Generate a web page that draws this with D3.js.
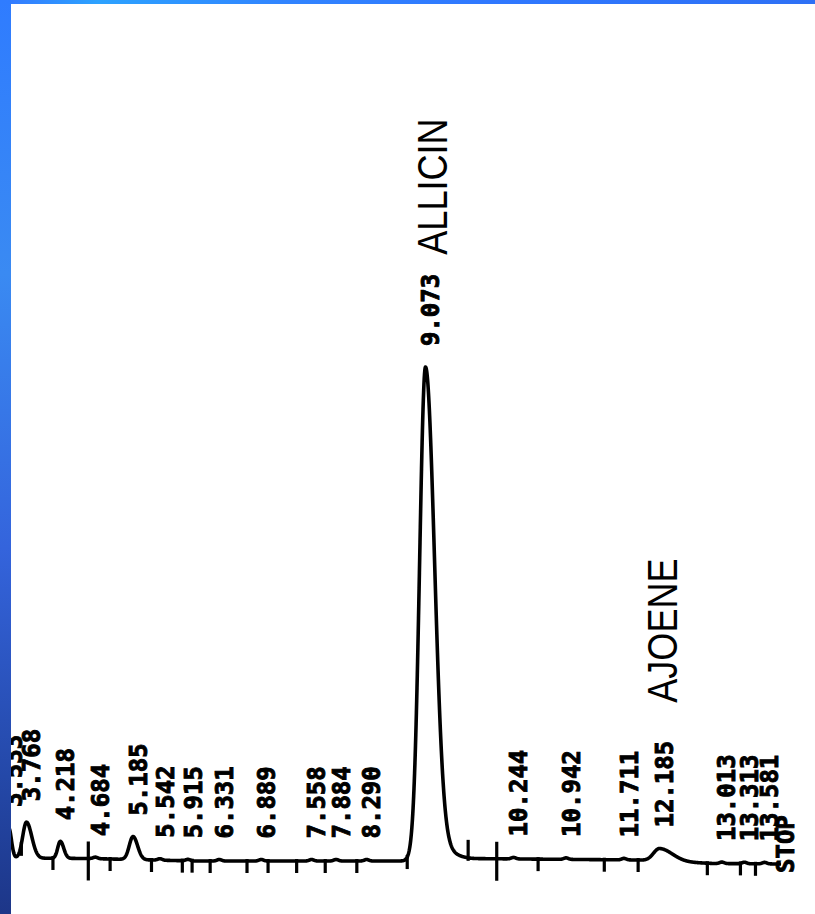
<!DOCTYPE html>
<html>
<head>
<meta charset="utf-8">
<script src="https://cdn.jsdelivr.net/npm/d3@7"></script>
<style>
  html, body { margin: 0; padding: 0; background: #fff; overflow: hidden; }
</style>
</head>
<body>
<div id="chart"></div>
<script>
// peak table (retention time in min)
var peakTimes   = [3.533, 3.768, 4.218, 4.684, 5.185, 5.542, 5.915, 6.331, 6.889, 7.558,
                   7.884, 8.290, 9.073, 10.244, 10.942, 11.711, 12.185, 13.013, 13.313, 13.581];
var peakHeights = [6.0, 7.2, 3.4, 0.3, 4.6, 0.3, 0.3, 0.3, 0.3, 0.3,
                   0.3, 0.3, 98.6, 0.3, 0.3, 0.3, 2.5, 0.3, 0.3, 0.3];
var peakSigmaL  = [0.04, 0.05, 0.035, 0.03, 0.05, 0.03, 0.03, 0.03, 0.03, 0.03,
                   0.03, 0.03, 0.078, 0.03, 0.03, 0.03, 0.08, 0.03, 0.03, 0.03];
var peakSigmaR  = [0.035, 0.07, 0.045, 0.03, 0.06, 0.03, 0.03, 0.03, 0.03, 0.03,
                   0.03, 0.03, 0.12, 0.03, 0.03, 0.03, 0.17, 0.03, 0.03, 0.03];

// tailing of the allicin peak
var tailTimes   = [9.40];
var tailHeights = [1.0];
var tailSigma   = [0.12];

// baseline drift
var baseTimes  = [3.38, 4.6, 6.0, 8.8, 9.6, 11.9, 12.9, 13.8];
var baseValues = [0.4, 0.3, -0.2, -0.2, 0.3, 0.0, -0.7, -0.8];

// integrator event marks on the baseline
var markTimes = [3.70, 4.12, 4.59, 4.88, 5.43, 5.84, 5.97, 6.21, 6.70, 6.98, 7.36,
                 7.74, 8.16, 8.83, 9.64, 10.02, 10.57, 11.45, 11.90, 12.82, 13.26, 13.46];
var markKinds = ["d", "d", "L", "d", "d", "d", "d", "d", "d", "d", "d",
                 "d", "d", "d", "u", "L", "d", "d", "d", "d", "d", "d"];

var compounds     = ["ALLICIN", "AJOENE"];
var compoundTimes = [9.073, 12.185];

var runStart = 3.38, runEnd = 13.80, stopTime = 13.78;

// settings
var W = 815, H = 914;

var svg = d3.select("#chart")
  .append("svg")
  .attr("width", W)
  .attr("height", H);

var x = d3.scaleLinear().domain([6.886, 9.073]).range([261, 425.5]);
var y = d3.scaleLinear().domain([0, 100]).range([860, 360]);
var drift = d3.scaleLinear().domain(baseTimes).range(baseValues).clamp(true);

function signal(t) {
  var s = drift(t);
  for (var i = 0; i < peakTimes.length; i++) {
    var sg = t < peakTimes[i] ? peakSigmaL[i] : peakSigmaR[i];
    var d = (t - peakTimes[i]) / sg;
    s += peakHeights[i] * Math.exp(-0.5 * d * d);
  }
  for (var j = 0; j < tailTimes.length; j++) {
    var e = (t - tailTimes[j]) / tailSigma[j];
    s += tailHeights[j] * Math.exp(-0.5 * e * e);
  }
  return s;
}

var ts = d3.range(runStart, runEnd, 0.004);
var trace = ts.map(function(t) { return [t, signal(t)]; });

var line = d3.line()
  .x(function(d) { return x(d[0]); })
  .y(function(d) { return y(d[1]); });

svg.append("path")
  .datum(trace)
  .attr("d", line)
  .attr("fill", "none")
  .attr("stroke", "#000")
  .attr("stroke-width", 3.6)
  .attr("stroke-linejoin", "round");

// event marks
var markLen = { d: [2, 12], L: [17, 22], u: [18, 3] };
svg.selectAll(".mark")
  .data(markTimes)
  .enter().append("line")
  .attr("class", "mark")
  .attr("x1", function(d) { return x(d); })
  .attr("x2", function(d) { return x(d); })
  .attr("y1", function(d, i) { return y(signal(d)) - markLen[markKinds[i]][0]; })
  .attr("y2", function(d, i) { return y(signal(d)) + markLen[markKinds[i]][1]; })
  .attr("stroke", "#000")
  .attr("stroke-width", 3.2);

// retention time labels
var labelTop = {};
svg.selectAll(".rt")
  .data(peakTimes)
  .enter().append("text")
  .attr("class", "rt")
  .attr("transform", function(d) {
    return "translate(" + (x(d) + 5) + "," + (y(signal(d)) - 21) + ") rotate(-90)";
  })
  .attr("dy", "0.36em")
  .attr("font-family", "DejaVu Sans Mono")
  .attr("font-weight", "bold")
  .attr("font-size", 24)
  .attr("fill", "#000")
  .attr("stroke", "#000")
  .attr("stroke-width", 0.9)
  .text(function(d) { return d.toFixed(3); })
  .each(function(d) {
    labelTop[d] = y(signal(d)) - 21 - this.getComputedTextLength();
  });

svg.append("text")
  .attr("transform", "translate(" + (x(stopTime) + 6) + "," + (y(signal(stopTime)) + 9) + ") rotate(-90)")
  .attr("dy", "0.36em")
  .attr("font-family", "DejaVu Sans Mono")
  .attr("font-weight", "bold")
  .attr("font-size", 24)
  .attr("stroke", "#000")
  .attr("stroke-width", 0.9)
  .text("STOP");

// compound names
var nameGap = { ALLICIN: 19, AJOENE: 38 };
var nameShift = { ALLICIN: 1, AJOENE: -3 };
svg.selectAll(".name")
  .data(compounds)
  .enter().append("text")
  .attr("class", "name")
  .attr("transform", function(d, i) {
    var t = compoundTimes[i];
    return "translate(" + (x(t) + 5 + nameShift[d]) + "," + (labelTop[t] - nameGap[d]) + ") rotate(-90) scale(0.84,1)";
  })
  .attr("dy", "0.36em")
  .attr("font-family", "Liberation Sans, Arial, sans-serif")
  .attr("font-size", 43)
  .attr("fill", "#000")
  .text(function(d) { return d; });

// slide frame
var defs = svg.append("defs");
var gv = defs.append("linearGradient").attr("id", "gv")
  .attr("x1", 0).attr("y1", 0).attr("x2", 0).attr("y2", 1);
gv.append("stop").attr("offset", 0).attr("stop-color", "#2f7cff");
gv.append("stop").attr("offset", 0.3).attr("stop-color", "#3a8af2");
gv.append("stop").attr("offset", 0.6).attr("stop-color", "#3464dc");
gv.append("stop").attr("offset", 0.85).attr("stop-color", "#2448a8");
gv.append("stop").attr("offset", 1).attr("stop-color", "#1d3688");
var gh = defs.append("linearGradient").attr("id", "gh")
  .attr("x1", 0).attr("y1", 0).attr("x2", 1).attr("y2", 0);
gh.append("stop").attr("offset", 0).attr("stop-color", "#3477ff");
gh.append("stop").attr("offset", 0.12).attr("stop-color", "#2ca2ff");
gh.append("stop").attr("offset", 0.35).attr("stop-color", "#3184ff");
gh.append("stop").attr("offset", 0.6).attr("stop-color", "#2f78ff");
gh.append("stop").attr("offset", 1).attr("stop-color", "#2e70f5");

svg.append("rect").attr("x", 0).attr("y", 0).attr("width", W).attr("height", 4).attr("fill", "url(#gh)");
svg.append("rect").attr("x", 0).attr("y", 0).attr("width", 11).attr("height", H).attr("fill", "url(#gv)");
</script>
</body>
</html>
